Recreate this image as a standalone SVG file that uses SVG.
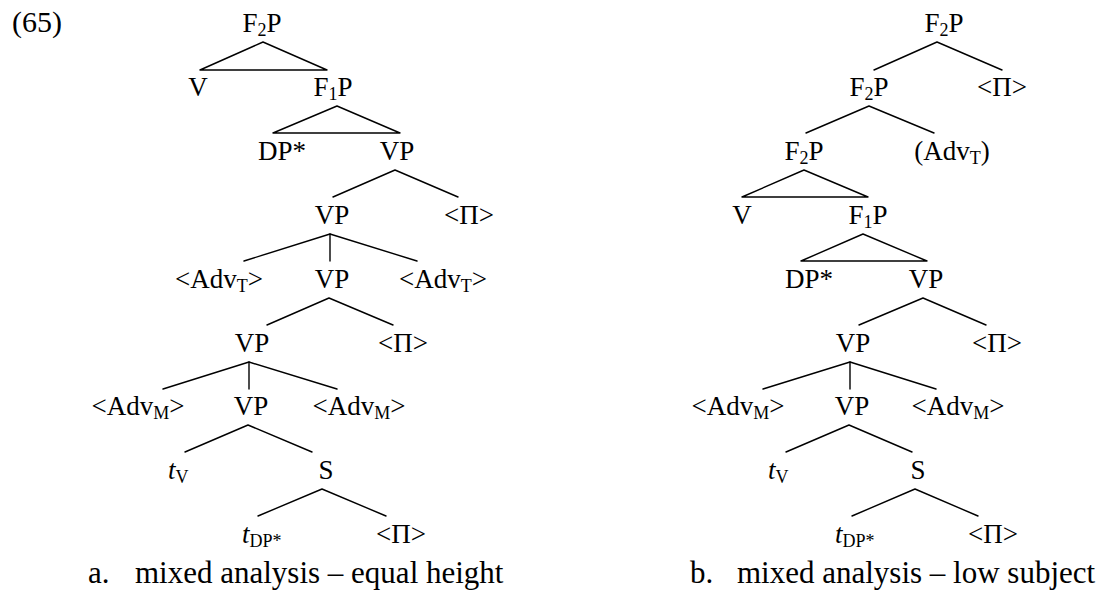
<svg xmlns="http://www.w3.org/2000/svg" width="1111" height="594" viewBox="0 0 1111 594" font-family="'Liberation Serif','Times New Roman',serif">
<style>
text{font-family:'Liberation Serif','Times New Roman',Times,serif;font-size:27px;fill:#000}
.m{text-anchor:middle}
.sub{font-size:18px}
.it{font-style:italic}
.cap{font-size:31px}
#connectors line,#connectors polyline{stroke:#000;stroke-width:1.4;fill:none;stroke-linecap:round;stroke-linejoin:round}
</style>
<rect width="1111" height="594" fill="#fff"/>
<text id="ex" x="12" y="32" style="font-size:30px">(65)</text>

<g id="connectors">
<!-- tree a -->
<polyline points="200,70 263,42 327,70 200,70"/>
<polyline points="273,133 337,106 400,133 273,133"/>
<polyline points="333,197 395,170 458,197"/>
<polyline points="244,261 330,234 417,261"/><line x1="330" y1="234" x2="330" y2="261"/>
<polyline points="267,325 329,298 393,325"/>
<polyline points="163,389 249,362 337,389"/><line x1="249" y1="362" x2="249" y2="389"/>
<polyline points="185,452 248,425 312,452"/>
<polyline points="258,516 322,489 386,516"/>
<!-- tree b -->
<polyline points="874,70 937,42 1002,70"/>
<polyline points="806,133 869,106 934,133"/>
<polyline points="742,197 804,170 868,197 742,197"/>
<polyline points="801,261 863,234 927,261 801,261"/>
<polyline points="859,325 923,298 986,325"/>
<polyline points="763,389 850,362 936,389"/><line x1="850" y1="362" x2="850" y2="389"/>
<polyline points="786,452 849,425 912,452"/>
<polyline points="852,516 915,489 978,516"/>
</g>

<!-- tree a nodes -->
<g id="a-F2P"><text class="m" x="262" y="32">F<tspan class="sub" dy="4">2</tspan><tspan dy="-4">P</tspan></text></g>
<g id="a-V"><text class="m" x="198" y="96">V</text></g>
<g id="a-F1P"><text class="m" x="333" y="96">F<tspan class="sub" dy="4">1</tspan><tspan dy="-4">P</tspan></text></g>
<g id="a-DP"><text class="m" x="282" y="160">DP*</text></g>
<g id="a-VP1"><text class="m" x="397" y="160">VP</text></g>
<g id="a-VP2"><text class="m" x="332" y="224">VP</text></g>
<g id="a-Pi1"><text class="m" x="469" y="224">&lt;Π&gt;</text></g>
<g id="a-AdvT1"><text class="m" x="219" y="288">&lt;Adv<tspan class="sub" dy="4">T</tspan><tspan dy="-4">&gt;</tspan></text></g>
<g id="a-VP3"><text class="m" x="332" y="288">VP</text></g>
<g id="a-AdvT2"><text class="m" x="443" y="288">&lt;Adv<tspan class="sub" dy="4">T</tspan><tspan dy="-4">&gt;</tspan></text></g>
<g id="a-VP4"><text class="m" x="252" y="352">VP</text></g>
<g id="a-Pi2"><text class="m" x="403" y="352">&lt;Π&gt;</text></g>
<g id="a-AdvM1"><text class="m" x="138" y="415">&lt;Adv<tspan class="sub" dy="4">M</tspan><tspan dy="-4">&gt;</tspan></text></g>
<g id="a-VP5"><text class="m" x="251" y="415">VP</text></g>
<g id="a-AdvM2"><text class="m" x="359" y="415">&lt;Adv<tspan class="sub" dy="4">M</tspan><tspan dy="-4">&gt;</tspan></text></g>
<g id="a-tV"><text x="168" y="479"><tspan class="it">t</tspan><tspan class="sub" dy="4">V</tspan></text></g>
<g id="a-S"><text class="m" x="326" y="479">S</text></g>
<g id="a-tDP"><text x="242" y="543"><tspan class="it">t</tspan><tspan class="sub" dy="4">DP*</tspan></text></g>
<g id="a-Pi3"><text class="m" x="401" y="543">&lt;Π&gt;</text></g>

<!-- tree b nodes -->
<g id="b-F2P1"><text class="m" x="944" y="32">F<tspan class="sub" dy="4">2</tspan><tspan dy="-4">P</tspan></text></g>
<g id="b-F2P2"><text class="m" x="869" y="96">F<tspan class="sub" dy="4">2</tspan><tspan dy="-4">P</tspan></text></g>
<g id="b-Pi1"><text class="m" x="1002" y="96">&lt;Π&gt;</text></g>
<g id="b-F2P3"><text class="m" x="804" y="160">F<tspan class="sub" dy="4">2</tspan><tspan dy="-4">P</tspan></text></g>
<g id="b-AdvT"><text class="m" x="952" y="160">(Adv<tspan class="sub" dy="4">T</tspan><tspan dy="-4">)</tspan></text></g>
<g id="b-V"><text class="m" x="742" y="224">V</text></g>
<g id="b-F1P"><text class="m" x="868" y="224">F<tspan class="sub" dy="4">1</tspan><tspan dy="-4">P</tspan></text></g>
<g id="b-DP"><text class="m" x="809" y="288">DP*</text></g>
<g id="b-VP1"><text class="m" x="926" y="288">VP</text></g>
<g id="b-VP2"><text class="m" x="853" y="352">VP</text></g>
<g id="b-Pi2"><text class="m" x="997" y="352">&lt;Π&gt;</text></g>
<g id="b-AdvM1"><text class="m" x="738" y="415">&lt;Adv<tspan class="sub" dy="4">M</tspan><tspan dy="-4">&gt;</tspan></text></g>
<g id="b-VP3"><text class="m" x="852" y="415">VP</text></g>
<g id="b-AdvM2"><text class="m" x="958" y="415">&lt;Adv<tspan class="sub" dy="4">M</tspan><tspan dy="-4">&gt;</tspan></text></g>
<g id="b-tV"><text x="768" y="479"><tspan class="it">t</tspan><tspan class="sub" dy="4">V</tspan></text></g>
<g id="b-S"><text class="m" x="918" y="479">S</text></g>
<g id="b-tDP"><text x="835" y="543"><tspan class="it">t</tspan><tspan class="sub" dy="4">DP*</tspan></text></g>
<g id="b-Pi3"><text class="m" x="993" y="543">&lt;Π&gt;</text></g>

<g id="captions">
<text class="cap" x="88" y="583">a.</text>
<text class="cap" x="135" y="583">mixed analysis – equal height</text>
<text class="cap" x="690" y="583">b.</text>
<text class="cap" x="737" y="583">mixed analysis – low subject</text>
</g>
</svg>
